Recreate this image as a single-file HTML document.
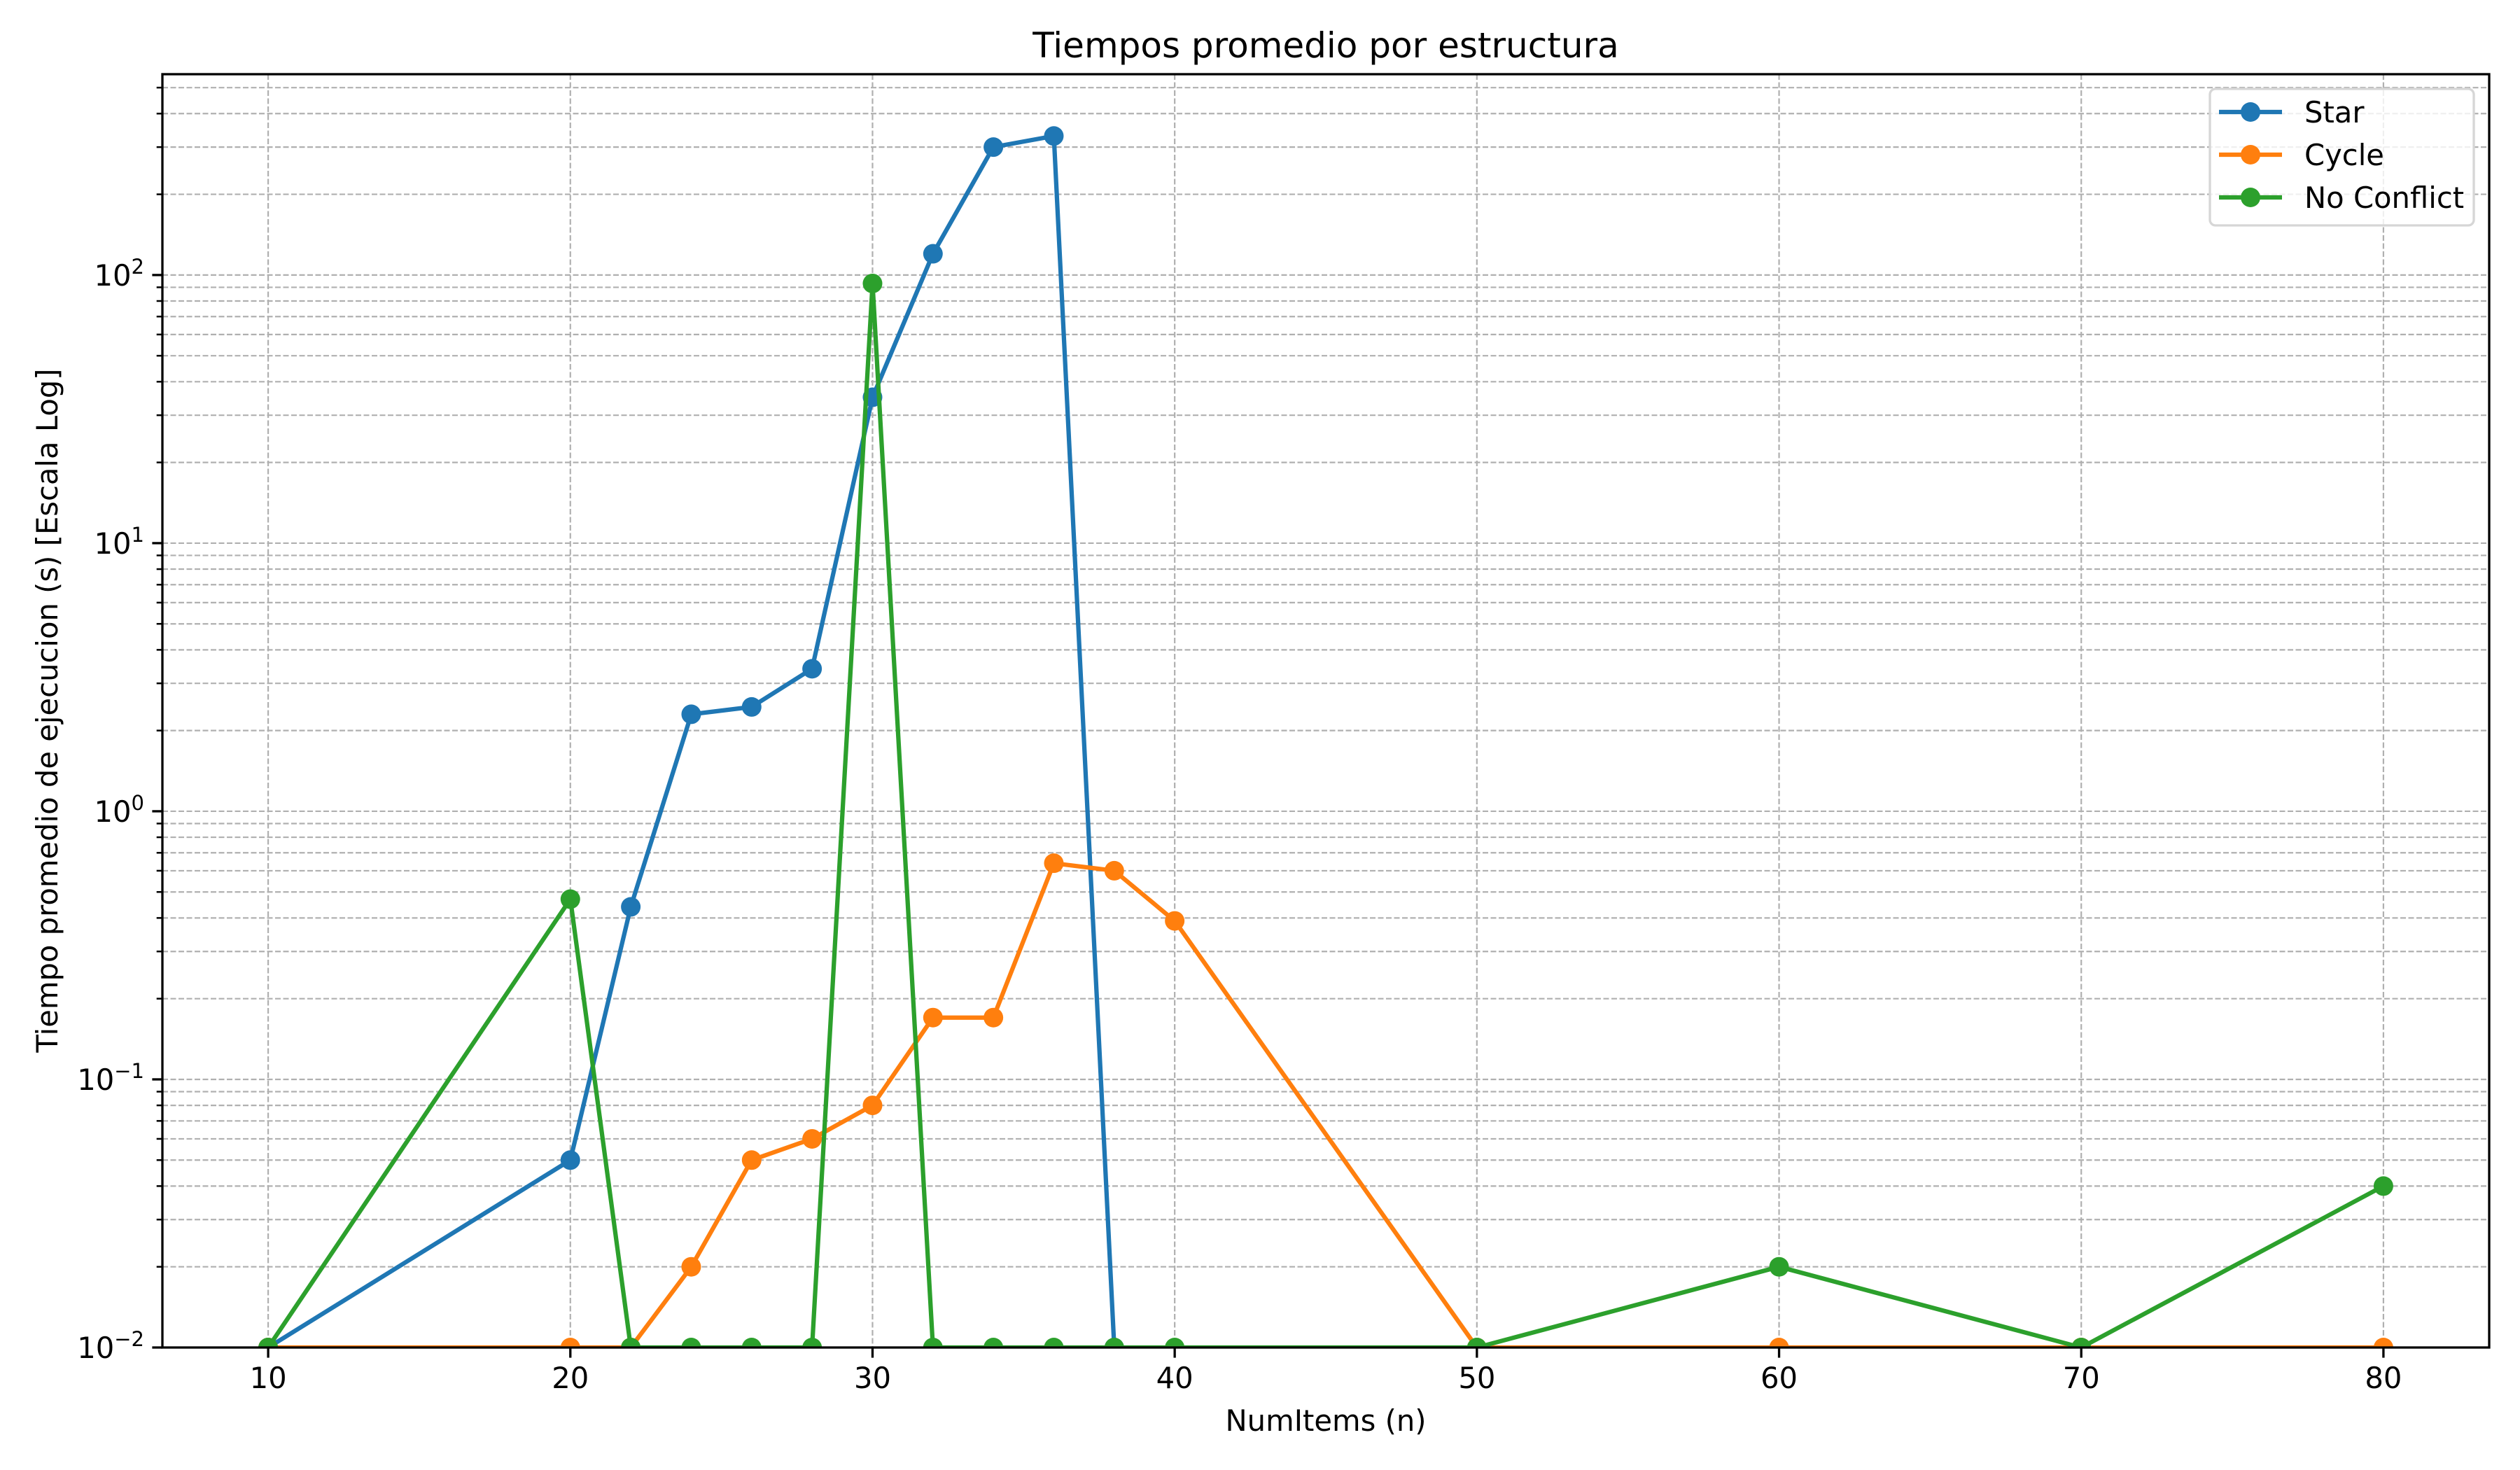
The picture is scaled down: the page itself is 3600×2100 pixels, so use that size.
<!DOCTYPE html>
<html><head><meta charset="utf-8"><style>
html,body{margin:0;padding:0;background:#fff;}
svg{display:block;font-family:"DejaVu Sans","Liberation Sans",sans-serif;}
</style></head><body>
<svg id="chart" width="3600" height="2100" viewBox="0 0 3600 2100" xmlns="http://www.w3.org/2000/svg">
<rect width="3600" height="2100" fill="#fff"/>
<defs><clipPath id="plotclip"><rect x="232" y="106" width="3324" height="1819"/></clipPath></defs>
<g id="grid"></g>
<g id="series" clip-path="url(#plotclip)"></g>
<rect x="232" y="106" width="3324" height="1819" fill="none" stroke="#000" stroke-width="3.3"/>
<g id="ticks"></g>
<text x="1894" y="82" font-size="50" text-anchor="middle">Tiempos promedio por estructura</text>
<text x="1894" y="2044" font-size="41.7" text-anchor="middle">NumItems (n)</text>
<text transform="translate(82,1015) rotate(-90)" font-size="41.7" text-anchor="middle">Tiempo promedio de ejecucion (s) [Escala Log]</text>
<g id="legend"></g>
</svg>
<script>
const seriesNames = ["Star", "Cycle", "No Conflict"];
const seriesColors = ["#1f77b4", "#ff7f0e", "#2ca02c"];
const starX = [10, 20, 22, 24, 26, 28, 30, 32, 34, 36, 38];
const starY = [0.01, 0.05, 0.44, 2.3, 2.45, 3.4, 35, 120, 300, 330, 0.01];
const cycleX = [10, 20, 22, 24, 26, 28, 30, 32, 34, 36, 38, 40, 50, 60, 70, 80];
const cycleY = [0.01, 0.01, 0.01, 0.02, 0.05, 0.06, 0.08, 0.17, 0.17, 0.64, 0.6, 0.39, 0.01, 0.01, 0.01, 0.01];
const noConfX = [10, 20, 22, 24, 26, 28, 30, 32, 34, 36, 38, 40, 50, 60, 70, 80];
const noConfY = [0.01, 0.47, 0.01, 0.01, 0.01, 0.01, 93, 0.01, 0.01, 0.01, 0.01, 0.01, 0.01, 0.02, 0.01, 0.04];
const xTicks = [10, 20, 30, 40, 50, 60, 70, 80];
const yTickExps = [-2, -1, 0, 1, 2];

const NS = "http://www.w3.org/2000/svg";
const L = 232, R = 3556, T = 106, B = 1925;
const xMin = 6.5, xMax = 83.5;
const yMinL = -2, yMaxL = 2.749;
function sx(v){ return L + (v - xMin) / (xMax - xMin) * (R - L); }
function sy(v){ return B - (Math.log10(v) - yMinL) / (yMaxL - yMinL) * (B - T); }
function mk(tag, attrs, parent){ const e = document.createElementNS(NS, tag); for (const k in attrs) e.setAttribute(k, attrs[k]); parent.appendChild(e); return e; }

const grid = document.getElementById('grid');
const ticks = document.getElementById('ticks');
const gridStyle = {stroke:"#b0b0b0", "stroke-width":2.2, "stroke-dasharray":"8,3.5", fill:"none"};
for (const t of xTicks) {
  const x = sx(t);
  const g = mk('line', Object.assign({x1:x, x2:x, y1:T, y2:B}, gridStyle), grid);
  
  
  const tk = mk('line', {x1:x, x2:x, y1:B, y2:B+14.6, stroke:"#000", "stroke-width":3.3}, ticks);
  
  
  const lb = mk('text', {x:x, y:B+58, "font-size":41.7, "text-anchor":"middle"}, ticks);
  lb.textContent = t;
  
  
}
for (let e = -2; e <= 2; e++) {
  for (let m = 1; m <= 9; m++) {
    const v = m * Math.pow(10, e);
    const y = sy(v);
    if (y < T) continue;
    const g = mk('line', Object.assign({x1:L, x2:R, y1:y, y2:y}, gridStyle), grid);
    
    
    const len = m === 1 ? 14.6 : 8.3;
    const tk = mk('line', {x1:L-len, x2:L, y1:y, y2:y, stroke:"#000", "stroke-width": m===1?3.3:2.5}, ticks);
    
    
  }
}
for (const e of yTickExps) {
  const y = sy(Math.pow(10, e));
  const lb = mk('text', {x:L-26, y:y+15, "font-size":41.7, "text-anchor":"end"}, ticks);
  
  
  const base = document.createElementNS(NS, 'tspan'); base.textContent = "10"; lb.appendChild(base);
  const sup = document.createElementNS(NS, 'tspan'); sup.setAttribute('dy', -17); sup.setAttribute('font-size', 29);
  sup.textContent = e < 0 ? "\u2212" + (-e) : String(e); lb.appendChild(sup);
}

const seriesG = document.getElementById('series');
const data = [[starX, starY], [cycleX, cycleY], [noConfX, noConfY]];
data.forEach((d, i) => {
  const pts = d[0].map((x, j) => sx(x).toFixed(1) + "," + sy(d[1][j]).toFixed(1)).join(" ");
  const pl = mk('polyline', {points:pts, fill:"none", stroke:seriesColors[i], "stroke-width":6.25, "stroke-linejoin":"round", "stroke-linecap":"square"}, seriesG);
  
  
  d[0].forEach((x, j) => {
    const c = mk('circle', {cx:sx(x), cy:sy(d[1][j]), r:14, fill:seriesColors[i]}, seriesG);
    
    
  });
});

const legend = document.getElementById('legend');
const lbox = mk('rect', {x:3157, y:127, width:377, height:195, rx:8, fill:"#fff", "fill-opacity":0.8, stroke:"#d6d6d6", "stroke-width":3.3}, legend);


seriesNames.forEach((n, i) => {
  const y = 160 + i * 61;
  const ln = mk('line', {x1:3170, x2:3260, y1:y, y2:y, stroke:seriesColors[i], "stroke-width":6.25}, legend);
  
  
  const c = mk('circle', {cx:3215, cy:y, r:14, fill:seriesColors[i]}, legend);
  
  
  const t = mk('text', {x:3292, y:y+15, "font-size":41.7}, legend);
  t.textContent = n;
  
  
});
</script>
</body></html>
